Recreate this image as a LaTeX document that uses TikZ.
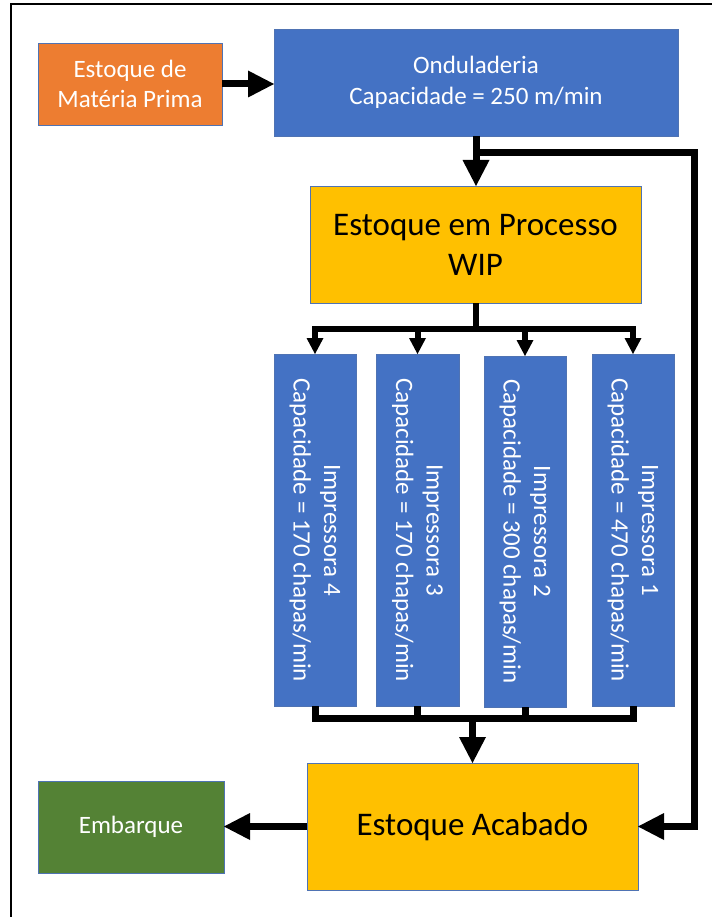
\documentclass[tikz,border=0pt]{standalone}
\usepackage{fontspec}
\setmainfont{Carlito}
\usetikzlibrary{arrows.meta,calc}

\definecolor{procblue}{HTML}{4472C4}
\definecolor{raworange}{HTML}{ED7D31}
\definecolor{stockgold}{HTML}{FFC000}
\definecolor{shipgreen}{HTML}{548235}
\definecolor{boxedge}{HTML}{4F73B3}

\begin{document}
\begin{tikzpicture}[
  x=1pt, y=-1pt,
  box/.style={draw=boxedge, line width=0.8pt, inner sep=0pt, outer sep=0pt, align=center},
  smalltext/.style={font=\fontsize{25}{30.5}\selectfont},
  bigtext/.style={font=\fontsize{33}{40}\selectfont},
  bigtip/.style={-{Triangle[width=27pt,length=26pt,line width=0pt]}},
  smalltip/.style={-{Triangle[width=17pt,length=16pt,line width=0pt]}},
  flowline/.style={line width=7pt, line join=miter},
  branchline/.style={line width=6pt, line join=miter},
  printer/.style={box, fill=procblue, minimum width=82pt, minimum height=352pt},
  printertext/.style={smalltext, text=white, align=center, rotate=-90, inner sep=0pt},
]
\useasboundingbox (0,0) rectangle (712,917);

% page frame
\draw[line width=2pt] (11.3,917) -- (11.3,4.5) -- (712,4.5);

% stations
\node[box, smalltext, fill=raworange, text=white, minimum width=184pt, minimum height=82pt]
  (mp) at (130,84) {Estoque de\\Matéria Prima};
\node[box, smalltext, fill=procblue, text=white, minimum width=404pt, minimum height=107pt]
  (ond) at (476,82.5) {Onduladeria\\Capacidade = 250 m/min};
\node[box, bigtext, fill=stockgold, text=black, minimum width=331pt, minimum height=117pt]
  (wip) at (475.5,244.5) {Estoque em Processo\\WIP};

\node[printer] (p4) at (315,530) {};
\node[printer, minimum width=83pt] (p3) at (417.5,530) {};
\node[printer, minimum height=351pt] (p2) at (525,531.5) {};
\node[printer] (p1) at (633,530) {};
\node[printertext] (p4t) at (p4) {Impressora 4\\Capacidade = 170 chapas/min};
\node[printertext] (p3t) at (p3) {Impressora 3\\Capacidade = 170 chapas/min};
\node[printertext] (p2t) at (p2) {Impressora 2\\Capacidade = 300 chapas/min};
\node[printertext] (p1t) at (p1) {Impressora 1\\Capacidade = 470 chapas/min};

\node[box, bigtext, fill=stockgold, text=black, minimum width=331pt, minimum height=127pt]
  (acab) at (472.5,826.5) {Estoque Acabado};
\node[box, smalltext, fill=shipgreen, text=white, minimum width=186pt, minimum height=92pt]
  (emb) at (131,827) {Embarque};

% raw material into the corrugator
\draw[flowline, bigtip] (mp.east) -- (mp.east -| ond.west);
% corrugator into WIP
\draw[flowline, bigtip] (ond.south) -- (ond.south |- wip.north);
% bypass straight to finished stock
\coordinate (loop) at (694,153);
\draw[flowline, bigtip] (ond.south |- loop) -- (loop) |- (acab.east);

% WIP split to the printers
\coordinate (split) at ($(wip.south)+(0,26)$);
\draw[branchline] (wip.south) -- (split);
\foreach \p in {p4,p3,p2,p1}
  \draw[branchline, smalltip] (split) -| (\p.north);

% printers merge into finished stock
\coordinate (merge) at ($(acab.north)+(0,-45)$);
\foreach \p in {p4,p3,p2,p1}
  \draw[flowline] (\p.south) |- (merge);
\draw[flowline, bigtip] (merge) -- (acab.north);

% shipping
\draw[flowline, bigtip] (acab.west) -- (acab.west -| emb.east);
\end{tikzpicture}
\end{document}
